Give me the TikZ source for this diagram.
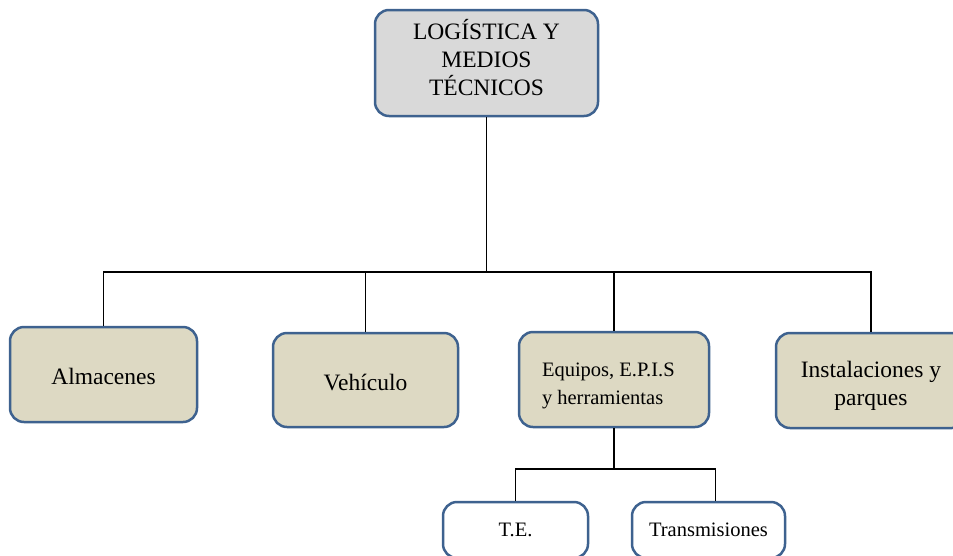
\documentclass[tikz,border=0pt]{standalone}
\usepackage{fontspec}
\setmainfont{Liberation Serif}
\usepackage{tikz}
\definecolor{boxline}{RGB}{62,98,143}
\definecolor{boxtan}{RGB}{221,217,195}
\definecolor{boxgray}{RGB}{217,217,217}

\begin{document}
\begin{tikzpicture}[x=1pt,y=-1pt,
		box/.style={draw=boxline, line width=2.5pt, rounded corners=14pt, inner sep=0pt, align=center},
		big/.style={font=\fontsize{23.5}{28}\selectfont},
		small/.style={font=\fontsize{20.5}{28}\selectfont},
		link/.style={draw=black, line width=1.3pt}]
		\useasboundingbox (0,0) rectangle (953,555);

		%% Top of the chart
		\node[box, big, fill=boxgray, minimum width=223pt, minimum height=106pt] (top) at (486.5,63)
		{\raisebox{5pt}[\height][\depth]{\parbox{200pt}{\centering LOGÍSTICA Y\\ MEDIOS\\ TÉCNICOS}}};

		%% Second level
		\node[box, big, fill=boxtan, minimum width=187pt, minimum height=95pt] (alm) at (103.5,374.5)
		{\raisebox{-2pt}[\height][\depth]{Almacenes}};
		\node[box, big, fill=boxtan, minimum width=185pt, minimum height=94pt] (veh) at (365.5,380)
		{\raisebox{-2pt}[\height][\depth]{Vehículo}};
		\node[box, small, fill=boxtan, minimum width=190pt, minimum height=95pt] (equ) at (614,379.5)
		{\raisebox{-6pt}[\height][\depth]{\hspace*{-6pt}\parbox{138pt}{Equipos, E.P.I.S\\ y herramientas}}};
		\node[box, big, fill=boxtan, minimum width=190pt, minimum height=95pt] (inst) at (871,380.5)
		{\raisebox{-5pt}[\height][\depth]{\parbox{190pt}{\centering Instalaciones y\\ parques}}};

		%% Third level
		\node[box, small, fill=white, minimum width=145pt, minimum height=56pt] (te) at (515.5,530) {T.E.};
		\node[box, small, fill=white, minimum width=153pt, minimum height=56pt] (trans) at (708.5,530) {Transmisiones};

		% Bus lines
		\coordinate (bus) at (0,272);
		\coordinate (bus2) at (0,469);

		\draw[link] (top.south) -- (top.south |- bus);
		\draw[link] (alm.north) -- (alm.north |- bus) -- (inst.north |- bus) -- (inst.north);
		\draw[link] (veh.north) -- (veh.north |- bus);
		\draw[link] (equ.north) -- (equ.north |- bus);

		\draw[link] (equ.south) -- (equ.south |- bus2);
		\draw[link] (te.north) -- (te.north |- bus2) -- ([xshift=7pt]trans.north |- bus2) -- ([xshift=7pt]trans.north);
	\end{tikzpicture}
\end{document}
